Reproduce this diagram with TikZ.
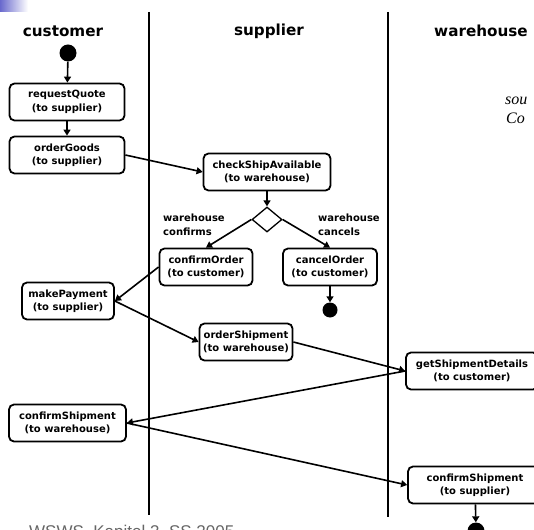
\documentclass[tikz,border=0pt]{standalone}
\usepackage{fontspec}
\setmainfont{DejaVu Sans}
\newfontfamily\footfont{Liberation Sans}
\newfontfamily\notefont{Liberation Serif}
\usetikzlibrary{shapes.geometric,arrows.meta}

\begin{document}
\begin{tikzpicture}[x=1pt,y=-1pt,
  act/.style={draw,line width=1.8pt,rounded corners=5pt,align=center,
    minimum height=37pt,inner sep=1pt,font=\fontsize{10}{13.5}\selectfont\bfseries},
  lanetitle/.style={font=\fontsize{15.2}{18}\selectfont\bfseries},
  guard/.style={align=left,anchor=west,inner sep=0pt,
    font=\fontsize{10}{13.5}\selectfont\bfseries},
  term/.style={circle,fill,inner sep=0pt,minimum size=#1},
  flow/.style={line width=1.6pt,-{Triangle[length=6pt,width=7pt]}}]

\useasboundingbox (0,0) rectangle (534,529);
\clip (0,0) rectangle (534,529);

% slide corner and footer
\shade[left color={rgb,255:red,105;green,105;blue,205},right color=white]
  (0,0) rectangle (28,12);
\node[anchor=base west,inner sep=0pt,text=black!60,
  font=\footfont\fontsize{17}{20}\selectfont] (foot) at (29,537)
  {WSWS, Kapitel 3, SS 2005};
\node[anchor=west,inner sep=0pt,font=\notefont\itshape\fontsize{16}{18}\selectfont]
  (src) at (505,101) {sou};
\node[anchor=west,inner sep=0pt,font=\notefont\itshape\fontsize{16}{18}\selectfont]
  (cop) at (506,118) {Co};

% swimlanes
\draw[line width=2.6pt] (149,12) -- (149,515);
\draw[line width=2.6pt] (388,12) -- (388,517);
\node[lanetitle] (cust) at (63,31) {customer};
\node[lanetitle] (supp) at (269,31) {supplier};
\node[lanetitle] (ware) at (481,31) {warehouse};

% customer
\node[term=17pt] (start) at (68,53) {};
\node[act,minimum width=115pt] (rq) at (67,102) {requestQuote\\(to supplier)};
\node[act,minimum width=115pt] (og) at (67,155) {orderGoods\\(to supplier)};
\node[act,minimum width=92pt] (mp) at (68,301) {makePayment\\(to supplier)};
\node[act,minimum width=117pt] (csc) at (67.5,423) {confirmShipment\\(to warehouse)};

% supplier
\node[act,minimum width=127pt] (csa) at (267,172) {checkShipAvailable\\(to warehouse)};
\node[draw,diamond,line width=1.3pt,inner sep=0pt,minimum width=30pt,
  minimum height=25pt] (dec) at (267,219.5) {};
\node[guard] (gc) at (163,225) {warehouse\\confirms};
\node[guard] (gx) at (318,225) {warehouse\\cancels};
\node[act,minimum width=93pt] (co) at (206,267) {confirmOrder\\(to customer)};
\node[act,minimum width=94pt] (cn) at (330,267) {cancelOrder\\(to customer)};
\node[term=15pt] (end1) at (330,310) {};
\node[act,minimum width=93pt] (os) at (246,342) {orderShipment\\(to warehouse)};

% warehouse
\node[act,minimum width=132pt] (gsd) at (472,371) {getShipmentDetails\\(to customer)};
\node[act,minimum width=134pt] (csw) at (475,485) {confirmShipment\\(to supplier)};
\node[term=17pt] (end2) at (476,531) {};

\draw[flow] (start) -- (rq);
\draw[flow] (rq) -- (og);
\draw[flow] (og.east) -- (csa.west);
\draw[flow] (csa) -- (dec);
\draw[flow] (dec.west) -- (co.north);
\draw[flow] (dec.east) -- (cn.north);
\draw[flow] (cn) -- (end1);
\draw[flow] (co.west) -- (mp.east);
\draw[flow] (mp.east) -- (os.west);
\draw[flow] (os.east) -- (gsd.west);
\draw[flow] (gsd.west) -- (csc.east);
\draw[flow] (csc.east) -- (csw.west);
\draw[flow] (csw) -- (end2);

\end{tikzpicture}
\end{document}
